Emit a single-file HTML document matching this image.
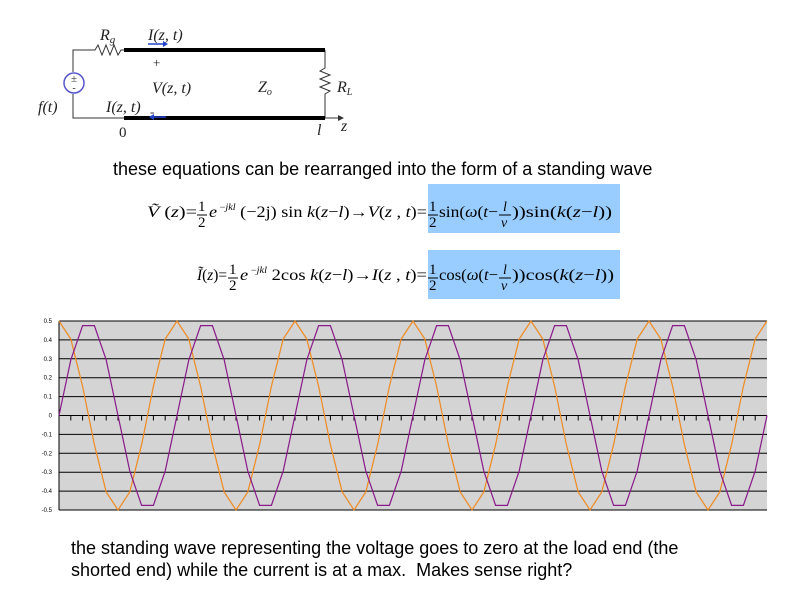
<!DOCTYPE html>
<html><head><meta charset="utf-8"><style>
body{margin:0;width:800px;height:600px;background:#fff;overflow:hidden;position:relative;font-family:"Liberation Sans",sans-serif}
.t{position:absolute;font-size:18px;color:#000;white-space:nowrap}
</style></head><body>
<svg width="800" height="600" style="position:absolute;left:0;top:0" font-family="Liberation Serif, serif">
<g stroke="#333" fill="none" stroke-width="1">
<polyline points="92,50 73,50 73,72"/>
<polyline points="73,94 73,118 124,118"/>
<polyline points="92,50 95,50 98,45 102,55 106,45 110,55 114,45 118,55 121,50 124,50"/>
<polyline points="325,50 325,68 320,71 330,75 320,79 330,83 320,87 330,91 325,94 325,118"/>
<line x1="325" y1="118" x2="338" y2="118"/>
</g>
<polygon points="338,115 344,118 338,121" fill="#333"/>
<line x1="124" y1="50" x2="325" y2="50" stroke="#000" stroke-width="4"/>
<line x1="124" y1="118" x2="325" y2="118" stroke="#000" stroke-width="4"/>
<circle cx="74" cy="83" r="10" fill="#fff" stroke="#55c" stroke-width="1.5"/>
<text x="74" y="82" font-size="11" text-anchor="middle" fill="#333">±</text>
<text x="74" y="91" font-size="10" text-anchor="middle" fill="#333">-</text>
<line x1="148" y1="44" x2="165" y2="44" stroke="#24c" stroke-width="1.5"/><polygon points="163,41 168,44 163,47" fill="#24c"/>
<line x1="152" y1="117" x2="166" y2="117" stroke="#24c" stroke-width="1.5"/><polygon points="154,114 149,117 154,120" fill="#24c"/>
<g font-size="16" fill="#222" font-style="italic">
<text x="100" y="40">R<tspan font-size="11" dy="3">g</tspan></text>
<text x="148" y="40">I(z, t)</text>
<text x="152" y="93">V(z, t)</text>
<text x="258" y="92">Z<tspan font-size="10" dy="3">o</tspan></text>
<text x="337" y="92">R<tspan font-size="10" dy="3">L</tspan></text>
<text x="38" y="112">f(t)</text>
<text x="106" y="112">I(z, t)</text>
<text x="317" y="135">l</text>
<text x="341" y="131">z</text>
</g>
<text x="153" y="67" font-size="13" fill="#222">+</text>
<text x="150" y="116" font-size="13" fill="#222">-</text>
<text x="119" y="137" font-size="15" fill="#222">0</text>
<rect x="428" y="184" width="192" height="49" fill="#9cf"/>
<rect x="428" y="250" width="192" height="49" fill="#9cf"/>
<g font-size="16" fill="#000">
<text x="147" y="217" textLength="50" lengthAdjust="spacingAndGlyphs"><tspan font-style="italic">Ṽ</tspan> (<tspan font-style="italic">z</tspan>)=</text>
<text x="198" y="211" font-size="15">1</text><line x1="197" y1="215" x2="207" y2="215" stroke="#000"/><text x="198" y="227" font-size="15">2</text>
<text x="209" y="217" textLength="218" lengthAdjust="spacingAndGlyphs"><tspan font-style="italic">e</tspan><tspan font-size="9" dy="-7"> −<tspan font-style="italic">jkl</tspan></tspan><tspan dy="7"> (−2j) sin </tspan><tspan font-style="italic">k</tspan>(<tspan font-style="italic">z</tspan>−<tspan font-style="italic">l</tspan>)→<tspan font-style="italic">V</tspan>(<tspan font-style="italic">z</tspan> , <tspan font-style="italic">t</tspan>)=</text>
<text x="429" y="211" font-size="15">1</text><line x1="428" y1="215" x2="438" y2="215" stroke="#000"/><text x="429" y="227" font-size="15">2</text>
<text x="439" y="217" textLength="59" lengthAdjust="spacingAndGlyphs">sin(<tspan font-style="italic">ω</tspan>(<tspan font-style="italic">t</tspan>−</text>
<text x="503" y="211" font-size="14" font-style="italic">l</text><line x1="499" y1="215" x2="511" y2="215" stroke="#000"/><text x="501" y="227" font-size="14" font-style="italic">v</text>
<text x="512" y="217" textLength="100" lengthAdjust="spacingAndGlyphs">))sin(<tspan font-style="italic">k</tspan>(<tspan font-style="italic">z</tspan>−<tspan font-style="italic">l</tspan>))</text>
</g>
<g font-size="16" fill="#000">
<text x="197" y="280" textLength="30" lengthAdjust="spacingAndGlyphs"><tspan font-style="italic">Ĩ</tspan>(<tspan font-style="italic">z</tspan>)=</text>
<text x="229" y="274" font-size="15">1</text><line x1="228" y1="278" x2="238" y2="278" stroke="#000"/><text x="229" y="290" font-size="15">2</text>
<text x="240" y="280" textLength="187" lengthAdjust="spacingAndGlyphs"><tspan font-style="italic">e</tspan><tspan font-size="9" dy="-7"> −<tspan font-style="italic">jkl</tspan></tspan><tspan dy="7"> 2cos </tspan><tspan font-style="italic">k</tspan>(<tspan font-style="italic">z</tspan>−<tspan font-style="italic">l</tspan>)→<tspan font-style="italic">I</tspan>(<tspan font-style="italic">z</tspan> , <tspan font-style="italic">t</tspan>)=</text>
<text x="429" y="274" font-size="15">1</text><line x1="428" y1="278" x2="438" y2="278" stroke="#000"/><text x="429" y="290" font-size="15">2</text>
<text x="439" y="280" textLength="59" lengthAdjust="spacingAndGlyphs">cos(<tspan font-style="italic">ω</tspan>(<tspan font-style="italic">t</tspan>−</text>
<text x="503" y="274" font-size="14" font-style="italic">l</text><line x1="499" y1="278" x2="511" y2="278" stroke="#000"/><text x="501" y="290" font-size="14" font-style="italic">v</text>
<text x="512" y="280" textLength="102" lengthAdjust="spacingAndGlyphs">))cos(<tspan font-style="italic">k</tspan>(<tspan font-style="italic">z</tspan>−<tspan font-style="italic">l</tspan>))</text>
</g>
<rect x="59" y="321" width="708" height="189" fill="#d4d4d4"/>
<g id="grid" stroke="#000" stroke-width="1"></g>
<polyline id="org" fill="none" stroke="#f08a20" stroke-width="1.2"/>
<polyline id="pur" fill="none" stroke="#8a1a8a" stroke-width="1.2"/>
<g id="lab" font-family="Liberation Sans, sans-serif" font-size="6" fill="#000" text-anchor="end"></g>
</svg>
<div class="t" style="left:113px;top:159px">these equations can be rearranged into the form of a standing wave</div>
<div class="t" style="left:71px;top:537px;line-height:22px">the standing wave representing the voltage goes to zero at the load end (the<br>shorted end) while the current is at a max.&nbsp; Makes sense right?</div>
<script>
(function(){
var ns="http://www.w3.org/2000/svg",g=document.getElementById('grid'),lab=document.getElementById('lab');
var x0=59,x1=767,yt=321,yb=510,yz=(yt+yb)/2;
for(var i=0;i<=10;i++){var y=yt+i*(yb-yt)/10;var l=document.createElementNS(ns,'line');l.setAttribute('x1',x0);l.setAttribute('x2',x1);l.setAttribute('y1',y);l.setAttribute('y2',y);g.appendChild(l);
var t=document.createElementNS(ns,'text');t.setAttribute('x',52);t.setAttribute('y',y+2);var v=(0.5-i*0.1).toFixed(1);if(v=="0.0"||v=="-0.0")v="0";t.textContent=v;lab.appendChild(t);}
var n=60,dx=(x1-x0)/n,po="",pp="";
for(var k=0;k<=n;k++){var x=x0+k*dx,a=k*2*Math.PI/10;
po+=x+","+(yz-0.5*Math.cos(a)*(yb-yt))+" ";pp+=x+","+(yz-0.5*Math.sin(a)*(yb-yt))+" ";
if(k>0&&k<n){var l=document.createElementNS(ns,'line');l.setAttribute('x1',x);l.setAttribute('x2',x);l.setAttribute('y1',yz);l.setAttribute('y2',yz+5);g.appendChild(l);}}
var v=document.createElementNS(ns,'line');v.setAttribute('x1',x0);v.setAttribute('x2',x0);v.setAttribute('y1',yt);v.setAttribute('y2',yb);g.appendChild(v);
document.getElementById('org').setAttribute('points',po);document.getElementById('pur').setAttribute('points',pp);
})();
</script>
</body></html>
